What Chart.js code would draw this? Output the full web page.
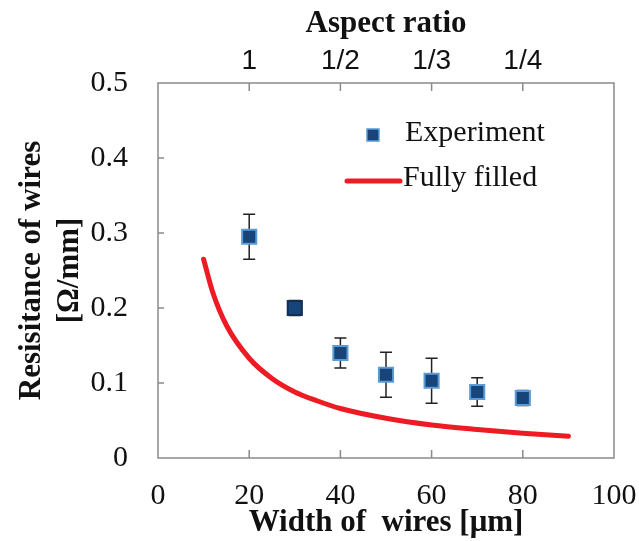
<!DOCTYPE html>
<html>
<head>
<meta charset="utf-8">
<script src="https://cdn.jsdelivr.net/npm/chart.js@4"></script>
<style>
  html, body { margin: 0; padding: 0; background: #fff; }
  #wrap { width: 639px; height: 541px; }
</style>
</head>
<body>
<div id="wrap"><canvas id="wiresChart" width="639" height="541"></canvas></div>
<script>
// measured points
const widths = [20, 30, 40, 50, 60, 70, 80];
const resistance = [0.295, 0.200, 0.140, 0.111, 0.103, 0.088, 0.080];
const errors = [0.030, 0.010, 0.020, 0.030, 0.030, 0.019, 0.010];

// fully filled curve
const fullX = [10, 12, 15, 20, 25, 30, 35, 40, 50, 60, 70, 80, 90];
const fullY = [0.265, 0.221, 0.177, 0.133, 0.106, 0.088, 0.076, 0.066, 0.053, 0.044, 0.038, 0.033, 0.029];

// top axis
const aspectPos = [20, 40, 60, 80];
const aspectLabels = ['1', '1/2', '1/3', '1/4'];

const markerFill = '#17457a';
const markerEdge = ['#5b9bd5', '#0f2f55', '#5b9bd5', '#5b9bd5', '#5b9bd5', '#5b9bd5', '#5b9bd5'];
const redLine = '#ed1c24';
const frameGray = '#8a8a8a';
const serif = '"Liberation Serif", "Times New Roman", serif';

const framePlugin = {
    id: 'frame',
    beforeDatasetsDraw(chart) {
        const ctx = chart.ctx;
        const x = chart.scales.x, y = chart.scales.y;
        // error bars behind markers
        ctx.save();
        ctx.strokeStyle = '#222';
        ctx.lineWidth = 1.5;
        widths.forEach((w, i) => {
            const px = x.getPixelForValue(w);
            const top = y.getPixelForValue(resistance[i] + errors[i]);
            const bot = y.getPixelForValue(resistance[i] - errors[i]);
            ctx.beginPath();
            ctx.moveTo(px, top); ctx.lineTo(px, bot);
            ctx.moveTo(px - 6, top); ctx.lineTo(px + 6, top);
            ctx.moveTo(px - 6, bot); ctx.lineTo(px + 6, bot);
            ctx.stroke();
        });
        ctx.restore();
    },
    afterDraw(chart) {
        const ctx = chart.ctx;
        const a = chart.chartArea;
        const x = chart.scales.x, y = chart.scales.y;
        ctx.save();
        ctx.strokeStyle = frameGray;
        ctx.lineWidth = 1.5;
        ctx.strokeRect(a.left, a.top, a.right - a.left, a.bottom - a.top);
        ctx.beginPath();
        aspectPos.forEach(v => {
            const px = x.getPixelForValue(v);
            ctx.moveTo(px, a.bottom); ctx.lineTo(px, a.bottom - 8);
            ctx.moveTo(px, a.top); ctx.lineTo(px, a.top + 8);
        });
        y.ticks.forEach(t => {
            if (t.value <= 0 || t.value >= 0.5) return;
            const py = y.getPixelForValue(t.value);
            ctx.moveTo(a.left, py); ctx.lineTo(a.left + 6, py);
        });
        ctx.stroke();

        // legend inside the plot
        const lx = a.left, ly = a.top;
        ctx.fillStyle = markerFill;
        ctx.strokeStyle = '#5b9bd5';
        ctx.lineWidth = 1.5;
        ctx.fillRect(lx + 209, ly + 46, 12, 12);
        ctx.strokeRect(lx + 209, ly + 46, 12, 12);
        ctx.strokeStyle = redLine;
        ctx.lineWidth = 5;
        ctx.lineCap = 'round';
        ctx.beginPath();
        ctx.moveTo(lx + 189, ly + 98); ctx.lineTo(lx + 242, ly + 98);
        ctx.stroke();
        ctx.fillStyle = '#111';
        ctx.font = '30px ' + serif;
        ctx.textBaseline = 'middle';
        ctx.textAlign = 'left';
        ctx.fillText('Experiment', lx + 247, ly + 50);
        ctx.fillText('Fully filled', lx + 245, ly + 95);
        ctx.restore();
    }
};

const fitX = s => { s.height = 83; s.paddingLeft = 0; s.paddingRight = 0; };

const ctx = document.getElementById('wiresChart').getContext('2d');
new Chart(ctx, {
    type: 'scatter',
    data: {
        datasets: [{
            label: 'Experiment',
            data: widths.map((w, i) => ({x: w, y: resistance[i]})),
            pointStyle: 'rect',
            pointRadius: 10,
            pointBackgroundColor: markerFill,
            pointBorderColor: markerEdge,
            pointBorderWidth: 2,
            showLine: false,
            order: 1
        }, {
            label: 'Fully filled',
            data: fullX.map((v, i) => ({x: v, y: fullY[i]})),
            showLine: true,
            borderColor: redLine,
            borderWidth: 5,
            borderCapStyle: 'round',
            pointRadius: 0,
            cubicInterpolationMode: 'monotone',
            order: 2
        }]
    },
    options: {
        animation: false,
        responsive: false,
        events: [],
        layout: { padding: { left: 0, right: 25, top: 0, bottom: 0 } },
        plugins: { legend: { display: false }, tooltip: { enabled: false } },
        scales: {
            x: {
                type: 'linear',
                position: 'bottom',
                min: 0, max: 100,
                afterFit: fitX,
                grid: { drawOnChartArea: false, drawTicks: false },
                border: { display: false },
                ticks: {
                    stepSize: 20,
                    padding: 20,
                    color: '#111',
                    font: { family: serif, size: 30 }
                },
                title: {
                    display: true,
                    text: 'Width of  wires [μm]',
                    color: '#111',
                    font: { family: serif, size: 31, weight: 'bold', lineHeight: 1 },
                    padding: { top: 0, bottom: 3 }
                }
            },
            x2: {
                type: 'linear',
                position: 'top',
                min: 0, max: 100,
                afterFit: fitX,
                afterBuildTicks: s => { s.ticks = aspectPos.map(v => ({value: v})); },
                grid: { drawOnChartArea: false, drawTicks: false },
                border: { display: false },
                ticks: {
                    padding: 5,
                    color: '#111',
                    font: { family: '"Liberation Sans", Arial, sans-serif', size: 28 },
                    callback: v => aspectLabels[aspectPos.indexOf(v)]
                },
                title: {
                    display: true,
                    text: 'Aspect ratio',
                    color: '#111',
                    font: { family: serif, size: 31, weight: 'bold', lineHeight: 1 },
                    padding: { top: 8, bottom: 0 }
                }
            },
            y: {
                type: 'linear',
                position: 'left',
                min: 0, max: 0.5,
                afterFit: s => { s.width = 158; },
                grid: { drawOnChartArea: false, drawTicks: false },
                border: { display: false },
                ticks: {
                    stepSize: 0.1,
                    padding: 30,
                    color: '#111',
                    font: { family: serif, size: 30 },
                    callback: v => v === 0 ? '0' : v.toFixed(1)
                },
                title: {
                    display: true,
                    text: ['Resisitance of wires', '[Ω/mm]'],
                    color: '#111',
                    font: { family: serif, size: 31, weight: 'bold', lineHeight: 38 / 31 },
                    padding: { top: 13, bottom: 0 }
                }
            }
        }
    },
    plugins: [framePlugin]
});
</script>
</body>
</html>
